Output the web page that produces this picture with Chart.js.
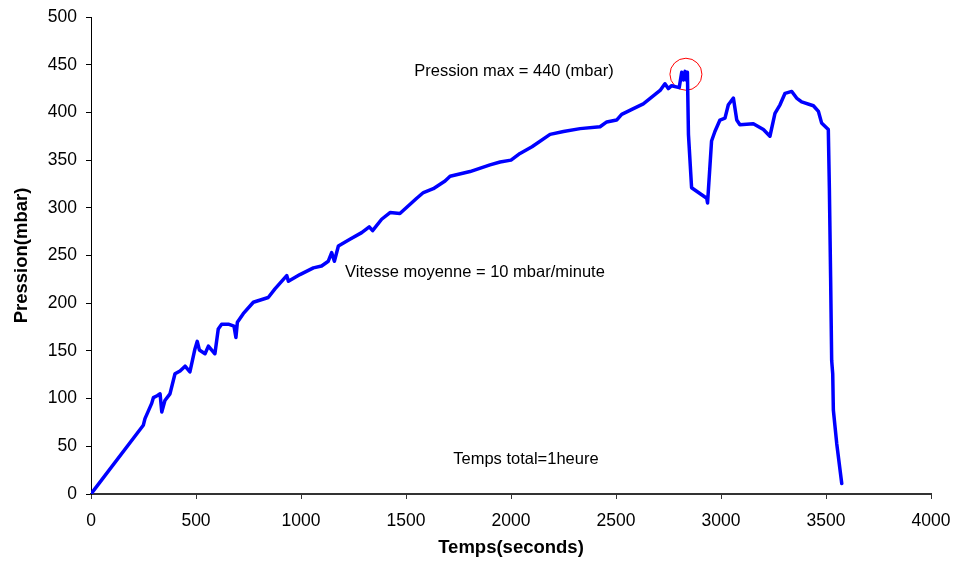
<!DOCTYPE html>
<html>
<head>
<meta charset="utf-8">
<title>Pression</title>
<script src="https://cdn.jsdelivr.net/npm/chart.js@4.4.1/dist/chart.umd.min.js"></script>
<style>
  html, body { margin: 0; padding: 0; background: #fff; }
  #wrap { width: 955px; height: 566px; position: relative; }
</style>
</head>
<body>
<div id="wrap"><canvas id="chart"></canvas></div>
<script>
  // Essai de pression : temps (s) et pression (mbar)
  const temps = [
    0, 249, 257, 289, 297, 315, 329, 337, 352, 376, 400, 424, 448, 471, 495, 506, 516, 543, 559, 590,
    606, 622, 654, 681, 690, 697, 725, 773, 844, 876, 932, 940, 995, 1059, 1098, 1130, 1146, 1159, 1178, 1233,
    1289, 1325, 1341, 1384, 1424, 1471, 1551, 1583, 1630, 1686, 1710, 1805, 1900, 1948, 2000, 2043, 2100, 2186, 2250, 2329,
    2424, 2456, 2503, 2527, 2583, 2630, 2710, 2733, 2749, 2765, 2801, 2813, 2821, 2829, 2835, 2840, 2845, 2860, 2932, 2936,
    2955, 2971, 2995, 3019, 3035, 3059, 3075, 3090, 3154, 3202, 3233, 3257, 3281, 3305, 3337, 3360, 3384, 3440, 3464, 3479,
    3511, 3516, 3522, 3527, 3532, 3535, 3551, 3575
  ];
  const pression = [
    0, 72, 79, 95, 101, 103, 105, 86, 98, 105, 126, 129, 134, 128, 152, 160, 151, 147, 155, 147,
    173, 178, 178, 176, 164, 180, 189, 201, 206, 215, 229, 223, 230, 237, 239, 244, 253, 244, 260, 267,
    274, 280, 276, 288, 295, 294, 310, 316, 320, 328, 333, 338, 345, 348, 350, 357, 364, 377, 380, 383,
    385, 390, 392, 398, 404, 409, 423, 430, 425, 428, 426, 442, 434, 443, 434, 442, 377, 321, 310, 305,
    370, 380, 392, 394, 408, 415, 392, 387, 388, 382, 375, 399, 408, 420, 422, 415, 411, 407, 401, 389,
    382, 321, 227, 140, 126, 88, 53, 11
  ];

  // point max entouré
  const pointMax = { x: 2833, y: 440 };

  const xTicks = [0, 500, 1000, 1500, 2000, 2500, 3000, 3500, 4000];
  const yTicks = [0, 50, 100, 150, 200, 250, 300, 350, 400, 450, 500];

  const notes = [
    { text: "Pression max = 440 (mbar)", x: 2014, y: 442.5, align: "center" },
    { text: "Vitesse moyenne = 10 mbar/minute", x: 1210, y: 232, align: "left" },
    { text: "Temps total=1heure", x: 2071, y: 36.5, align: "center" }
  ];

  const FONT = "'Liberation Sans', Arial, sans-serif";

  const notesPlugin = {
    id: "notes",
    afterDatasetsDraw(chart) {
      const { ctx, scales } = chart;
      ctx.save();
      ctx.fillStyle = "#000";
      ctx.font = "16.5px " + FONT;
      ctx.textBaseline = "middle";
      notes.forEach((n) => {
        ctx.textAlign = n.align;
        ctx.fillText(n.text, scales.x.getPixelForValue(n.x), scales.y.getPixelForValue(n.y));
      });
      ctx.restore();
    }
  };

  const courbe = temps.map((t, i) => ({ x: t, y: pression[i] }));

  new Chart(document.getElementById("chart"), {
    type: "scatter",
    data: {
      datasets: [
        {
          data: courbe,
          showLine: true,
          borderColor: "#0000ff",
          borderWidth: 3.5,
          pointRadius: 0,
          tension: 0,
          borderJoinStyle: "round",
          borderCapStyle: "round"
        },
        {
          data: [pointMax],
          pointRadius: 16,
          pointHoverRadius: 16,
          borderColor: "#ff0000",
          borderWidth: 1,
          backgroundColor: "rgba(0,0,0,0)"
        }
      ]
    },
    options: {
      responsive: true,
      maintainAspectRatio: false,
      animation: false,
      events: [],
      layout: { padding: { top: 15, right: 24, left: 0, bottom: 0 } },
      plugins: { legend: { display: false }, tooltip: { enabled: false } },
      scales: {
        x: {
          type: "linear",
          min: 0,
          max: 4000,
          afterBuildTicks: (s) => { s.ticks = xTicks.map((v) => ({ value: v })); },
          afterFit: (s) => { s.height = 72; s.paddingLeft = 0; s.paddingRight = 0; },
          border: { color: "#333", width: 2 },
          grid: { drawOnChartArea: false, color: "#333", tickLength: 5 },
          ticks: { color: "#000", font: { family: FONT, size: 17.5 }, padding: 12, maxRotation: 0, callback: (v) => String(v) },
          title: { display: true, text: "Temps(seconds)", color: "#000", font: { family: FONT, size: 18.5, weight: "bold" }, padding: { top: 4, bottom: 7 } }
        },
        y: {
          min: 0,
          max: 500,
          afterBuildTicks: (s) => { s.ticks = yTicks.map((v) => ({ value: v })); },
          afterFit: (s) => { s.width = 91; s.paddingTop = 0; s.paddingBottom = 0; },
          border: { color: "#000", width: 1 },
          grid: { drawOnChartArea: false, color: "#000", tickLength: 5 },
          ticks: { color: "#000", font: { family: FONT, size: 17.5 }, padding: 9, callback: (v) => String(v) },
          title: { display: true, text: "Pression(mbar)", color: "#000", font: { family: FONT, size: 18.5, weight: "bold" }, padding: { top: 11, bottom: 4 } }
        }
      }
    },
    plugins: [notesPlugin]
  });
</script>
</body>
</html>
